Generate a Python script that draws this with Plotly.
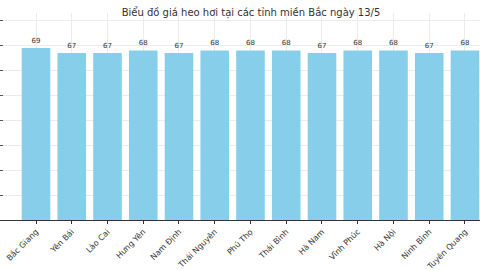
import plotly.graph_objects as go

provinces = ["Bắc Giang", "Yên Bái", "Lào Cai", "Hưng Yên", "Nam Định", "Thái Nguyên",
             "Phú Thọ", "Thái Bình", "Hà Nam", "Vĩnh Phúc", "Hà Nội", "Ninh Bình", "Tuyên Quang"]
prices = [69, 67, 67, 68, 67, 68, 68, 68, 67, 68, 68, 67, 68]
title = "Biểu đồ giá heo hơi tại các tỉnh miền Bắc ngày 13/5"

fig = go.Figure(go.Bar(
    x=provinces, y=prices,
    marker=dict(color="#87CEEB", line=dict(width=0)),
    width=0.8,
    text=[str(v) for v in prices], textposition="outside",
    textfont=dict(family="DejaVu Sans", size=7, color="#333333"),
    cliponaxis=False,
))

fig.update_layout(
    width=480, height=270,
    margin=dict(l=0, r=0, t=13, b=49.5, autoexpand=False),
    paper_bgcolor="white", plot_bgcolor="white",
    showlegend=False,
    title=dict(text=title, x=251/480, xanchor="center", y=1 - 12/270, yanchor="middle",
               font=dict(family="DejaVu Sans", size=10, color="#333333")),
    font=dict(family="DejaVu Sans"),
    bargap=0.2,
)
fig.update_xaxes(
    range=[-1.007, 12.42], type="category", automargin=False,
    tickangle=-45, tickfont=dict(size=8, color="#333333"),
    showgrid=True, gridcolor="#ebebeb", gridwidth=1,
    showline=True, linecolor="#333333", linewidth=1,
    ticks="outside", ticklen=3, tickcolor="#333333",
)
fig.update_yaxes(
    range=[0, 83], dtick=10, showticklabels=False, automargin=False,
    showgrid=True, gridcolor="#ebebeb", gridwidth=1,
    ticks="inside", ticklen=3, tickcolor="#555555",
    zeroline=False, showline=False,
)
fig.write_html("out.html", config={"displayModeBar": False})
